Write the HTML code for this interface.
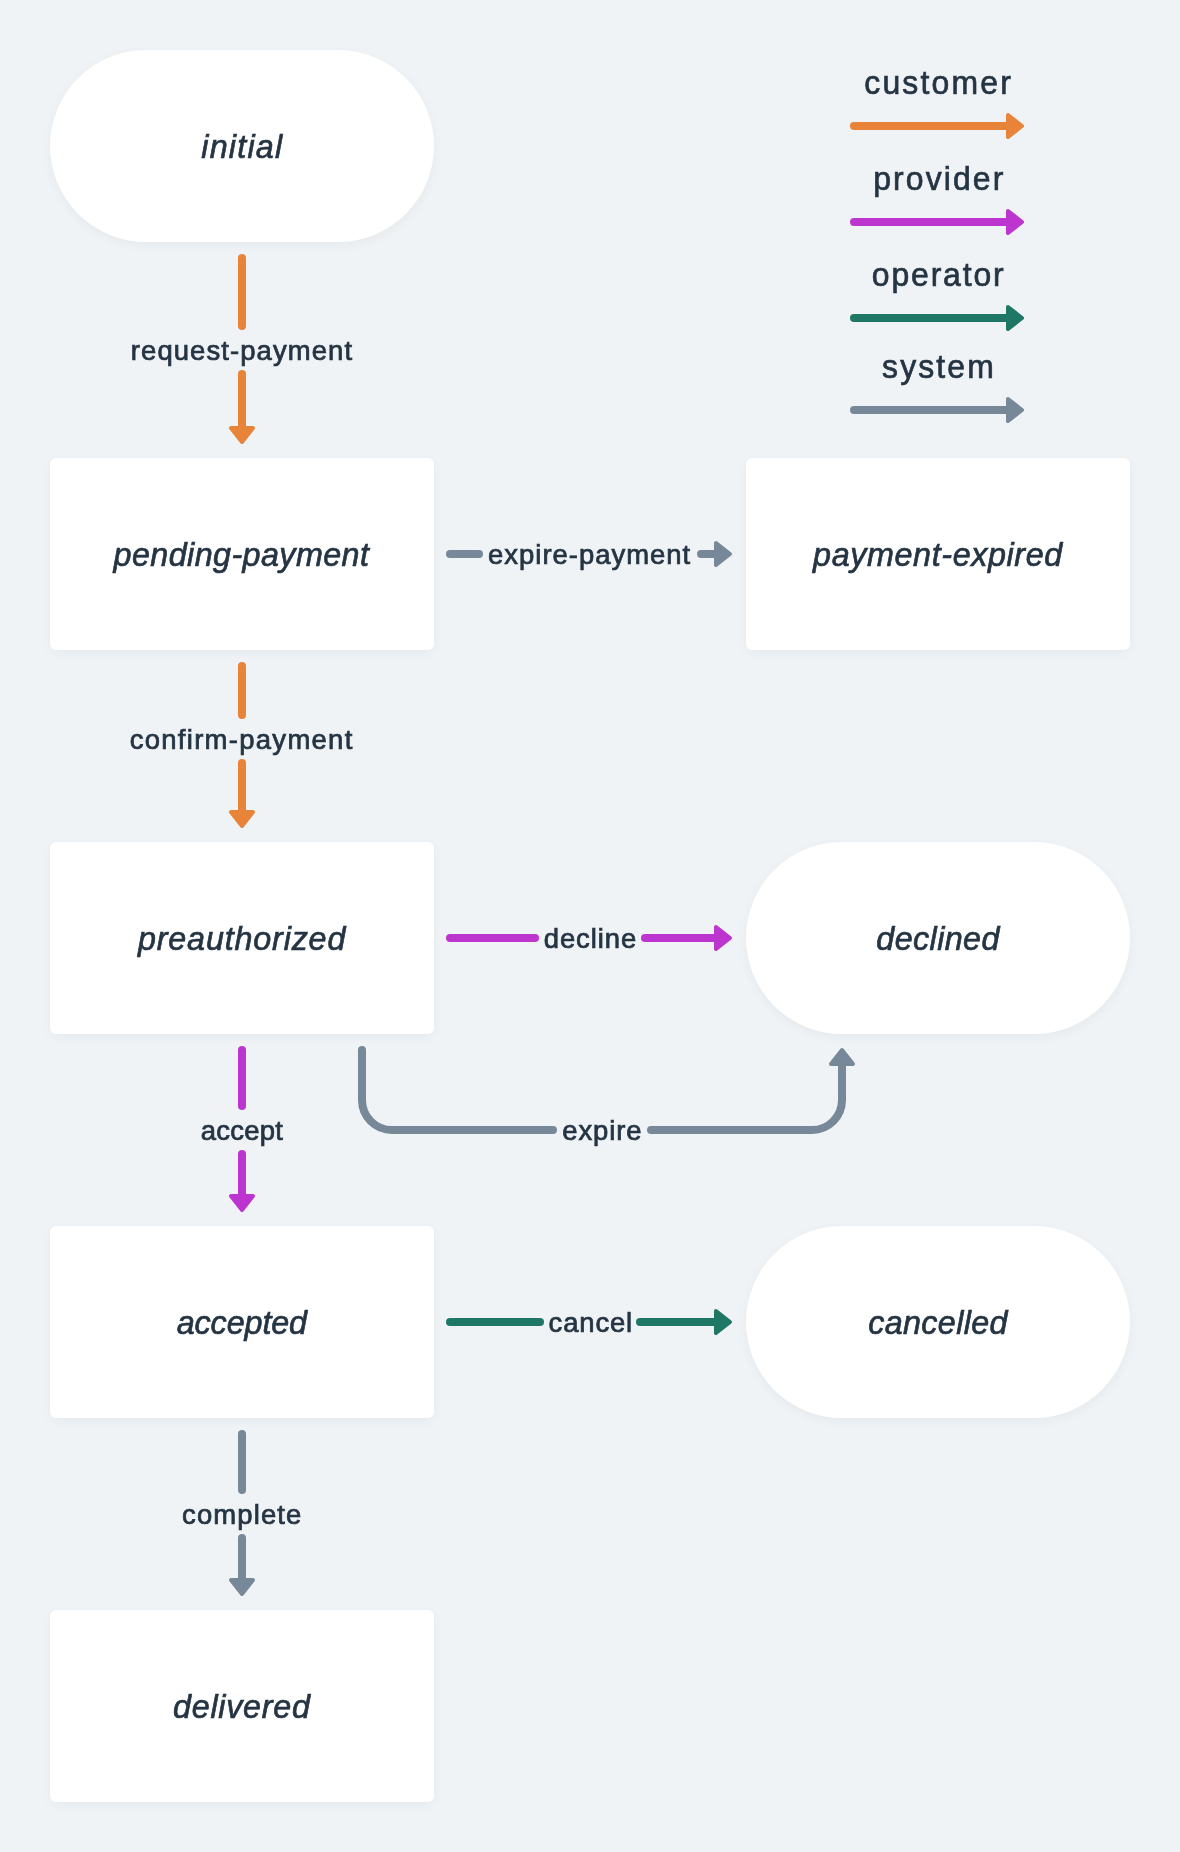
<!DOCTYPE html>
<html><head><meta charset="utf-8"><style>
html,body{margin:0;padding:0;background:#eff3f6;}
body{width:1180px;height:1852px;overflow:hidden;position:relative;font-family:"Liberation Sans",sans-serif;}
.n{position:absolute;width:384px;height:192px;background:#fff;border-radius:6px;box-shadow:0 3px 11px rgba(0,0,0,0.043);}
.p{border-radius:96px;}
svg{position:absolute;left:0;top:0;}
svg text{font-family:"Liberation Sans",sans-serif;fill:#253443;}
svg{will-change:transform;}
svg text.b{stroke:#253443;stroke-width:0.7px;}
svg text{stroke:#253443;stroke-width:0.75px;}
</style></head><body>

<div class="n p" style="left:50px;top:50px"></div>
<div class="n" style="left:50px;top:458px"></div>
<div class="n" style="left:746px;top:458px"></div>
<div class="n" style="left:50px;top:842px"></div>
<div class="n p" style="left:746px;top:842px"></div>
<div class="n" style="left:50px;top:1226px"></div>
<div class="n p" style="left:746px;top:1226px"></div>
<div class="n" style="left:50px;top:1610px"></div>
<svg width="1180" height="1852" viewBox="0 0 1180 1852">
<text class="b" x="254.47" y="157.6" font-size="34" font-style="italic" text-anchor="middle" textLength="85.12" lengthAdjust="spacing" transform="scale(0.95,1)">initial</text>
<text class="b" x="253.95" y="565.6" font-size="34" font-style="italic" text-anchor="middle" textLength="268.79" lengthAdjust="spacing" transform="scale(0.95,1)">pending-payment</text>
<text class="b" x="987.05" y="565.6" font-size="34" font-style="italic" text-anchor="middle" textLength="262.35" lengthAdjust="spacing" transform="scale(0.95,1)">payment-expired</text>
<text class="b" x="254.37" y="949.6" font-size="34" font-style="italic" text-anchor="middle" textLength="218.34" lengthAdjust="spacing" transform="scale(0.95,1)">preauthorized</text>
<text class="b" x="987.26" y="949.6" font-size="34" font-style="italic" text-anchor="middle" textLength="129.57" lengthAdjust="spacing" transform="scale(0.95,1)">declined</text>
<text class="b" x="254.63" y="1333.6" font-size="34" font-style="italic" text-anchor="middle" textLength="137.27" lengthAdjust="spacing" transform="scale(0.95,1)">accepted</text>
<text class="b" x="987.21" y="1333.6" font-size="34" font-style="italic" text-anchor="middle" textLength="146.75" lengthAdjust="spacing" transform="scale(0.95,1)">cancelled</text>
<text class="b" x="254.21" y="1717.6" font-size="34" font-style="italic" text-anchor="middle" textLength="144.21" lengthAdjust="spacing" transform="scale(0.95,1)">delivered</text>
<text class="b" x="997.39" y="94" font-size="34" font-style="normal" text-anchor="middle" textLength="155.95" lengthAdjust="spacing" transform="scale(0.94,1)">customer</text>
<path d="M854 126 L1006 126" stroke="#e8833a" stroke-width="8" stroke-linecap="round" fill="none"/>
<path d="M1008 115 L1022 126 L1008 137 Z" fill="#e8833a" stroke="#e8833a" stroke-width="4" stroke-linejoin="round"/>
<text class="b" x="998.14" y="190" font-size="34" font-style="normal" text-anchor="middle" textLength="138.37" lengthAdjust="spacing" transform="scale(0.94,1)">provider</text>
<path d="M854 222 L1006 222" stroke="#bd35cf" stroke-width="8" stroke-linecap="round" fill="none"/>
<path d="M1008 211 L1022 222 L1008 233 Z" fill="#bd35cf" stroke="#bd35cf" stroke-width="4" stroke-linejoin="round"/>
<text class="b" x="997.61" y="286" font-size="34" font-style="normal" text-anchor="middle" textLength="140.39" lengthAdjust="spacing" transform="scale(0.94,1)">operator</text>
<path d="M854 318 L1006 318" stroke="#1f7866" stroke-width="8" stroke-linecap="round" fill="none"/>
<path d="M1008 307 L1022 318 L1008 329 Z" fill="#1f7866" stroke="#1f7866" stroke-width="4" stroke-linejoin="round"/>
<text class="b" x="997.82" y="378" font-size="34" font-style="normal" text-anchor="middle" textLength="118.83" lengthAdjust="spacing" transform="scale(0.94,1)">system</text>
<path d="M854 410 L1006 410" stroke="#778899" stroke-width="8" stroke-linecap="round" fill="none"/>
<path d="M1008 399 L1022 410 L1008 421 Z" fill="#778899" stroke="#778899" stroke-width="4" stroke-linejoin="round"/>
<path d="M242 258 L242 326" stroke="#e8833a" stroke-width="8" stroke-linecap="round" fill="none"/>
<path d="M242 374 L242 426" stroke="#e8833a" stroke-width="8" stroke-linecap="round" fill="none"/>
<path d="M231 428 L242 442 L253 428 Z" fill="#e8833a" stroke="#e8833a" stroke-width="4" stroke-linejoin="round"/>
<text x="246.38" y="360" font-size="28" font-style="normal" text-anchor="middle" textLength="225.84" lengthAdjust="spacing" transform="scale(0.98,1)">request-payment</text>
<path d="M242 666 L242 715" stroke="#e8833a" stroke-width="8" stroke-linecap="round" fill="none"/>
<path d="M242 763 L242 810" stroke="#e8833a" stroke-width="8" stroke-linecap="round" fill="none"/>
<path d="M231 812 L242 826 L253 812 Z" fill="#e8833a" stroke="#e8833a" stroke-width="4" stroke-linejoin="round"/>
<text x="245.92" y="749" font-size="28" font-style="normal" text-anchor="middle" textLength="227.15" lengthAdjust="spacing" transform="scale(0.98,1)">confirm-payment</text>
<path d="M242 1050 L242 1106" stroke="#bd35cf" stroke-width="8" stroke-linecap="round" fill="none"/>
<path d="M242 1154 L242 1194" stroke="#bd35cf" stroke-width="8" stroke-linecap="round" fill="none"/>
<path d="M231 1196 L242 1210 L253 1196 Z" fill="#bd35cf" stroke="#bd35cf" stroke-width="4" stroke-linejoin="round"/>
<text x="246.73" y="1140" font-size="28" font-style="normal" text-anchor="middle" textLength="83.98" lengthAdjust="spacing" transform="scale(0.98,1)">accept</text>
<path d="M242 1434 L242 1490" stroke="#778899" stroke-width="8" stroke-linecap="round" fill="none"/>
<path d="M242 1538 L242 1578" stroke="#778899" stroke-width="8" stroke-linecap="round" fill="none"/>
<path d="M231 1580 L242 1594 L253 1580 Z" fill="#778899" stroke="#778899" stroke-width="4" stroke-linejoin="round"/>
<text x="246.63" y="1524" font-size="28" font-style="normal" text-anchor="middle" textLength="121.72" lengthAdjust="spacing" transform="scale(0.98,1)">complete</text>
<path d="M450 554 L479 554" stroke="#778899" stroke-width="8" stroke-linecap="round" fill="none"/>
<path d="M701 554 L714 554" stroke="#778899" stroke-width="8" stroke-linecap="round" fill="none"/>
<path d="M716 543 L730 554 L716 565 Z" fill="#778899" stroke="#778899" stroke-width="4" stroke-linejoin="round"/>
<text x="601.17" y="564" font-size="28" font-style="normal" text-anchor="middle" textLength="206.34" lengthAdjust="spacing" transform="scale(0.98,1)">expire-payment</text>
<path d="M450 938 L535 938" stroke="#bd35cf" stroke-width="8" stroke-linecap="round" fill="none"/>
<path d="M645 938 L714 938" stroke="#bd35cf" stroke-width="8" stroke-linecap="round" fill="none"/>
<path d="M716 927 L730 938 L716 949 Z" fill="#bd35cf" stroke="#bd35cf" stroke-width="4" stroke-linejoin="round"/>
<text x="602.04" y="947.6" font-size="28" font-style="normal" text-anchor="middle" textLength="94.52" lengthAdjust="spacing" transform="scale(0.98,1)">decline</text>
<path d="M450 1322 L540 1322" stroke="#1f7866" stroke-width="8" stroke-linecap="round" fill="none"/>
<path d="M640 1322 L714 1322" stroke="#1f7866" stroke-width="8" stroke-linecap="round" fill="none"/>
<path d="M716 1311 L730 1322 L716 1333 Z" fill="#1f7866" stroke="#1f7866" stroke-width="4" stroke-linejoin="round"/>
<text x="602.45" y="1332" font-size="28" font-style="normal" text-anchor="middle" textLength="85.34" lengthAdjust="spacing" transform="scale(0.98,1)">cancel</text>
<path d="M362 1050 L362 1100 A30 30 0 0 0 392 1130 L553 1130" stroke="#778899" stroke-width="8" stroke-linecap="round" fill="none"/>
<path d="M651 1130 L812 1130 A30 30 0 0 0 842 1100 L842 1066" stroke="#778899" stroke-width="8" stroke-linecap="round" fill="none"/>
<path d="M831 1064 L842 1050 L853 1064 Z" fill="#778899" stroke="#778899" stroke-width="4" stroke-linejoin="round"/>
<text x="614.18" y="1140" font-size="28" font-style="normal" text-anchor="middle" textLength="81.02" lengthAdjust="spacing" transform="scale(0.98,1)">expire</text>
</svg>
</body></html>
